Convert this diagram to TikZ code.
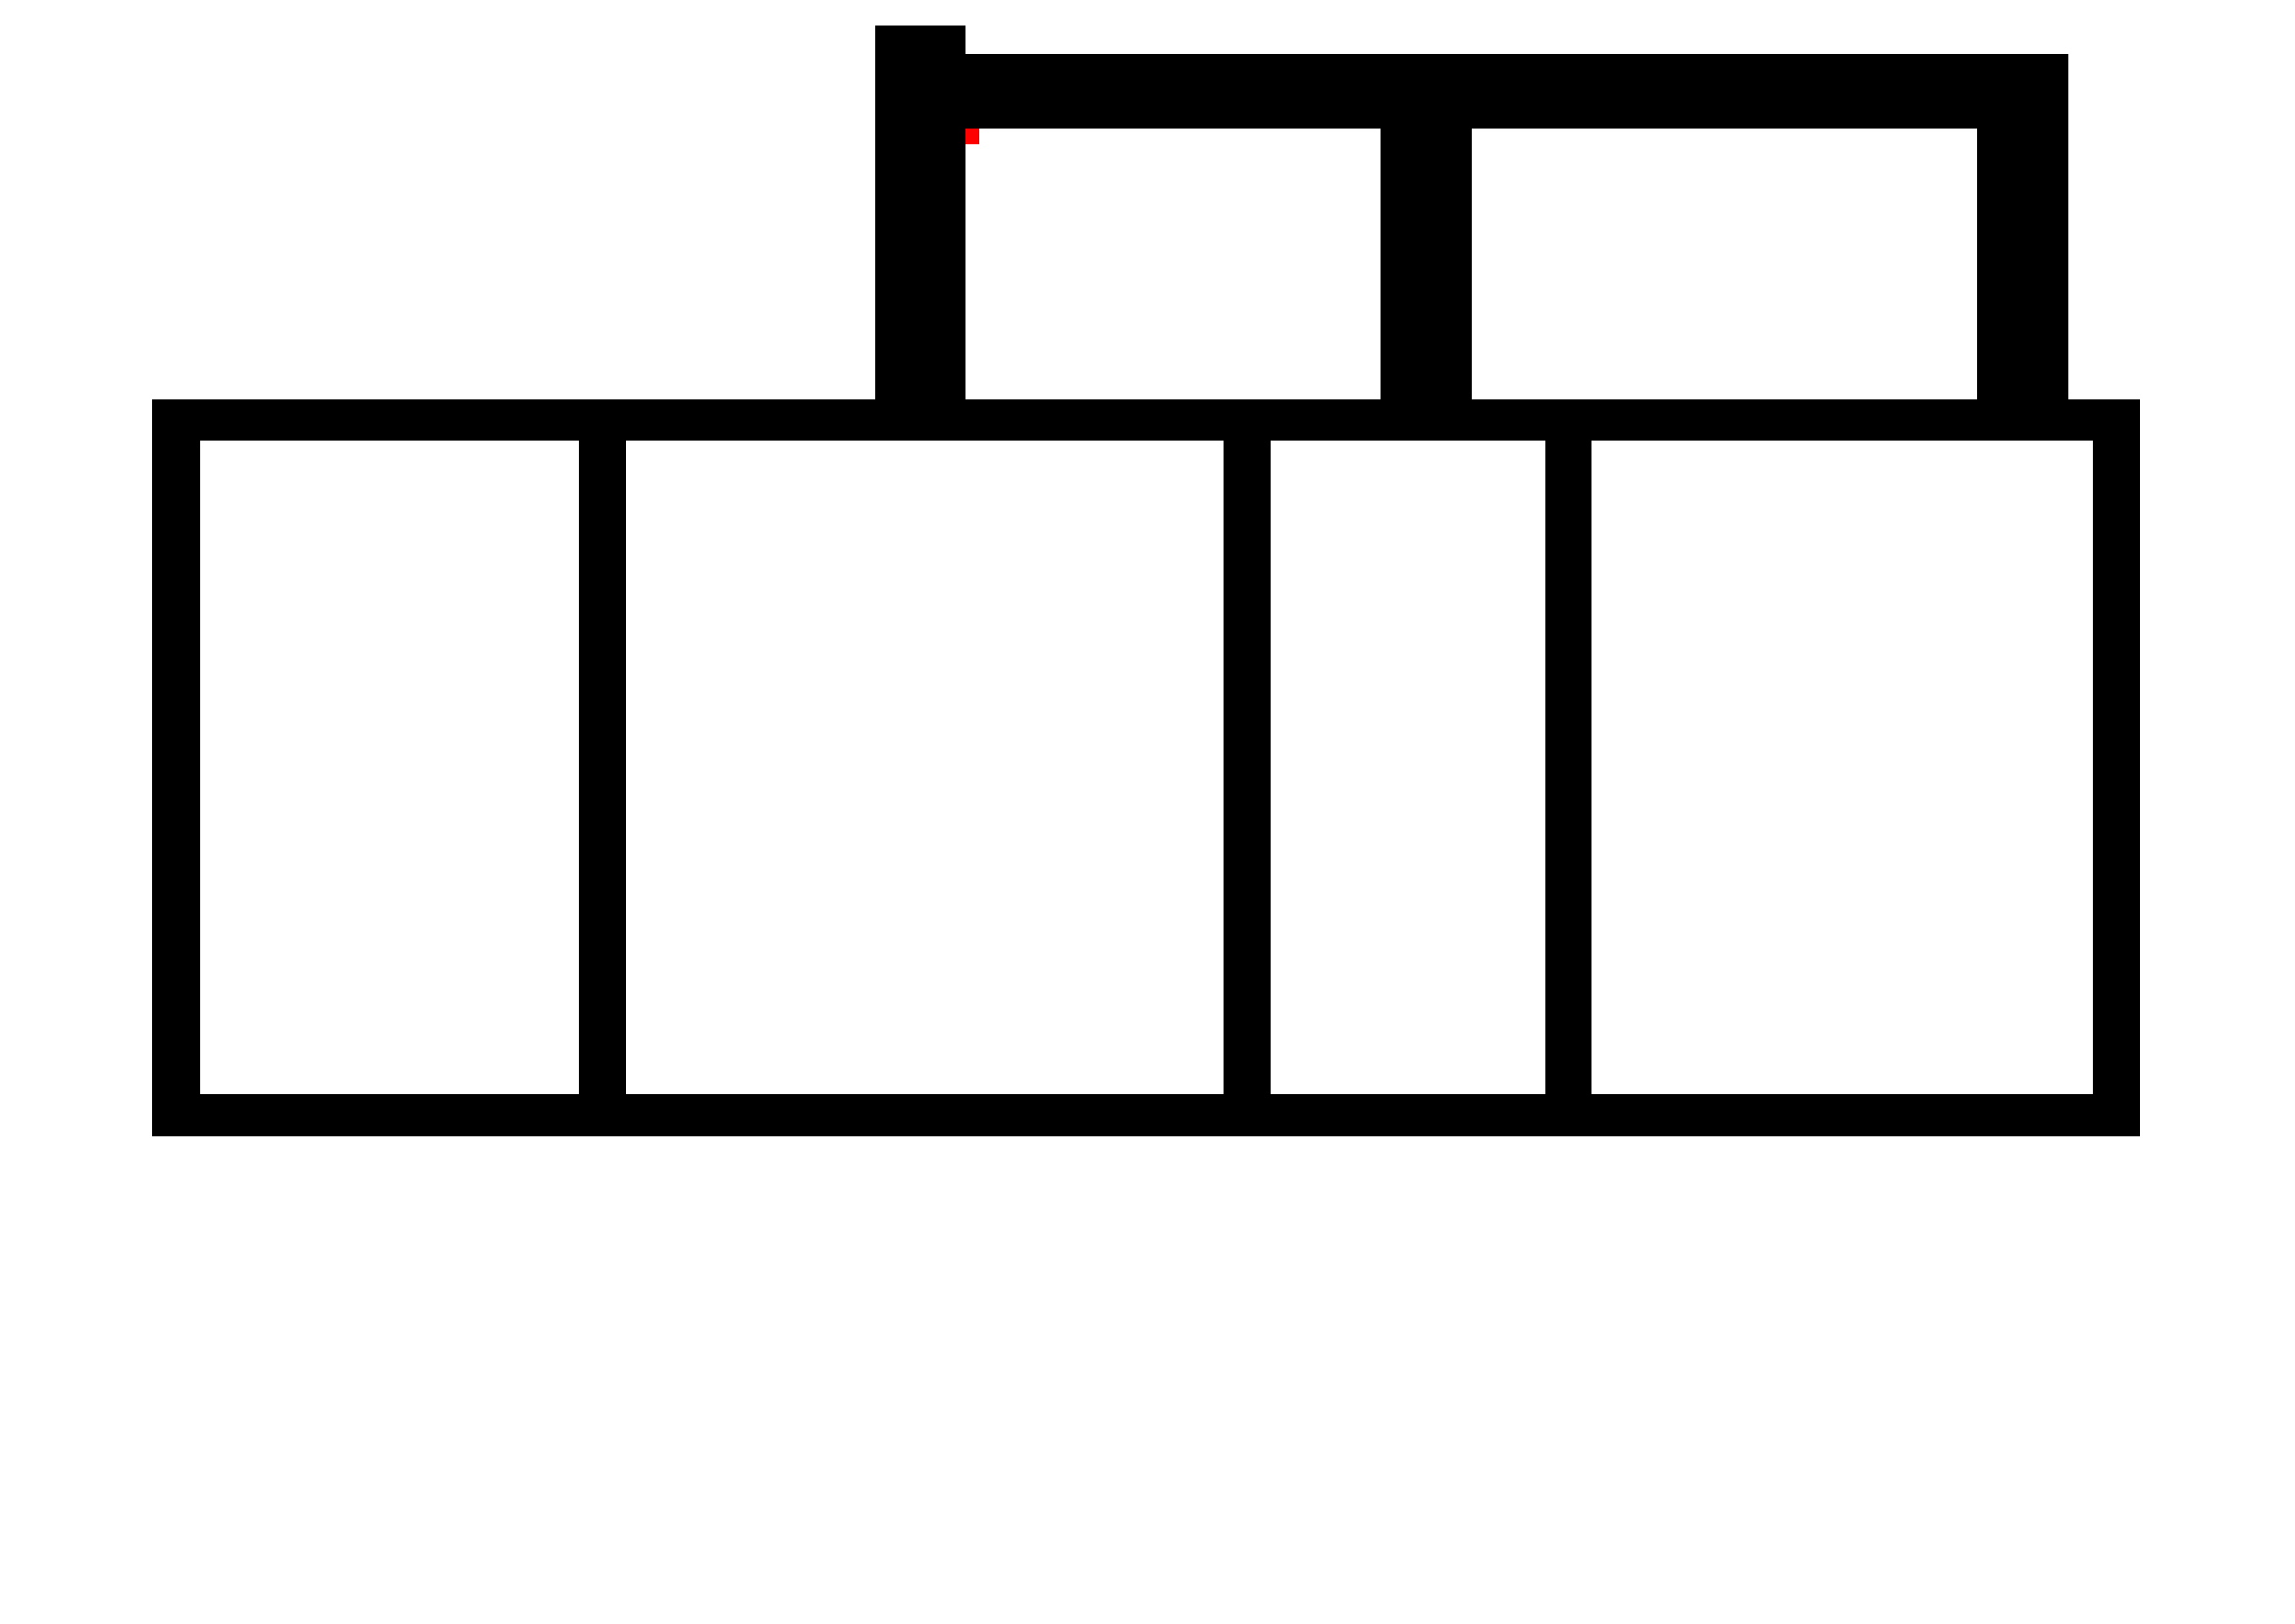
\documentclass[tikz,border=0pt]{standalone}
\tikzset{bar/.style={fill=black}, mark square/.style={fill=red}}
\begin{document}
\begin{tikzpicture}[x=1pt,y=-1pt]
\useasboundingbox (0,0) rectangle (2339,1654);
% main frame
\fill[bar] (155,407) rectangle (2181,449);
\fill[bar] (155,1115) rectangle (2181,1158);
\fill[bar] (155,407) rectangle (204,1158);
\fill[bar] (2133,407) rectangle (2181,1158);
\fill[bar] (590,407) rectangle (638,1158);
\fill[bar] (1247,407) rectangle (1295,1158);
\fill[bar] (1575,407) rectangle (1622,1158);
% upper structure
\fill[bar] (892,26) rectangle (984,449);
\fill[bar] (984,55) rectangle (2108,131);
\fill[bar] (1407,55) rectangle (1500,449);
\fill[bar] (2015,55) rectangle (2108,449);
\fill[mark square] (984,131) rectangle (998,147);
\end{tikzpicture}
\end{document}
